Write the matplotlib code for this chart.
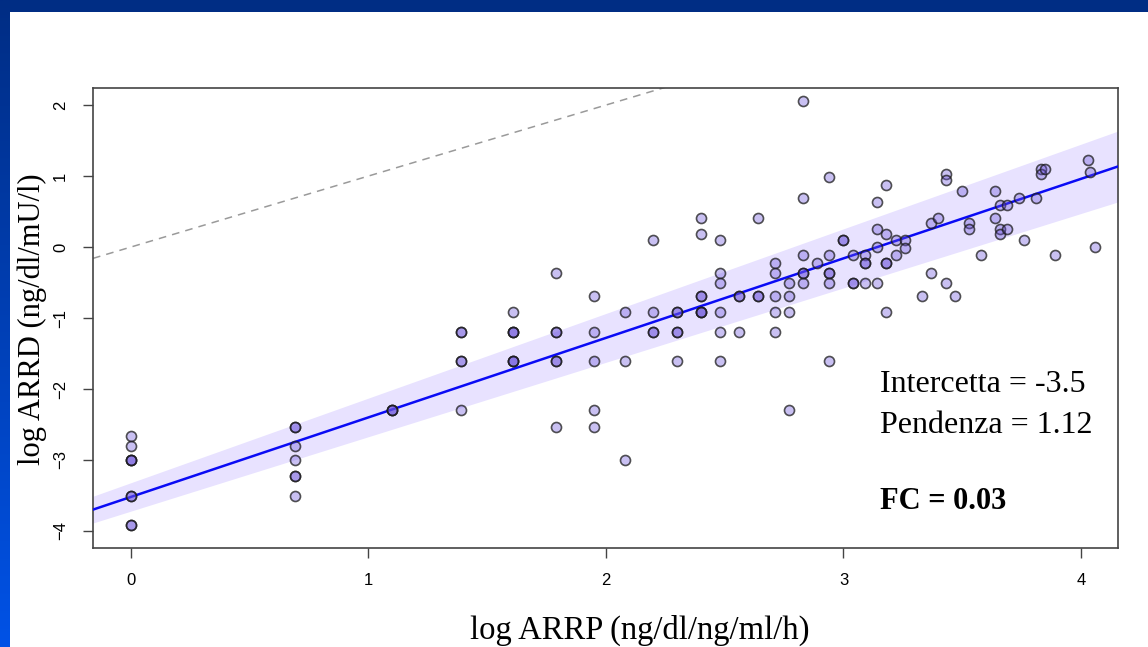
import numpy as np
import matplotlib
matplotlib.use("Agg")
import matplotlib.pyplot as plt

# log ARRP (x) / log ARRD (y) pairs
x_cols = [0.00, 0.69, 1.10, 1.39, 1.61, 1.79, 1.95, 2.08, 2.20, 2.30,
          2.40, 2.48, 2.56, 2.64, 2.71, 2.77, 2.83, 2.89, 2.94, 3.00,
          3.04, 3.09, 3.14, 3.18, 3.22, 3.26, 3.33, 3.37, 3.40, 3.43,
          3.47, 3.50, 3.53, 3.58, 3.64, 3.66, 3.69, 3.74, 3.76, 3.81,
          3.83, 3.85, 3.89, 4.03, 4.04, 4.06]
y_cols = [
    [-2.66, -2.81, -3.00, -3.00, -3.00, -3.51, -3.51, -3.91, -3.91],
    [-2.53, -2.53, -2.81, -3.00, -3.22, -3.22, -3.51],
    [-2.30, -2.30, -2.30],
    [-1.20, -1.20, -1.61, -1.61, -2.30],
    [-0.92, -1.20, -1.20, -1.20, -1.61, -1.61, -1.61],
    [-0.36, -1.20, -1.20, -1.61, -1.61, -2.53],
    [-0.69, -1.20, -1.61, -2.30, -2.53],
    [-0.92, -1.61, -3.00],
    [0.10, -0.92, -1.20, -1.20],
    [-0.92, -0.92, -1.20, -1.20, -1.61],
    [0.41, 0.18, -0.69, -0.69, -0.92, -0.92, -0.92],
    [0.10, -0.36, -0.51, -0.92, -1.20, -1.61],
    [-0.69, -0.69, -1.20],
    [0.41, -0.69, -0.69],
    [-0.22, -0.36, -0.69, -0.92, -1.20],
    [-0.51, -0.69, -0.92, -2.30],
    [2.05, 0.69, -0.11, -0.36, -0.36, -0.51],
    [-0.22],
    [0.99, -0.11, -0.36, -0.36, -0.51, -1.61],
    [0.10, 0.10],
    [-0.11, -0.51, -0.51],
    [-0.11, -0.22, -0.22, -0.51],
    [0.64, 0.26, 0.00, -0.51],
    [0.88, 0.18, -0.22, -0.22, -0.92],
    [0.10, -0.11],
    [0.10, -0.02],
    [-0.69],
    [0.34, -0.36],
    [0.41],
    [1.03, 0.95, -0.51],
    [-0.69],
    [0.79],
    [0.34, 0.26],
    [-0.11],
    [0.79, 0.41],
    [0.59, 0.26, 0.18],
    [0.59, 0.26],
    [0.69],
    [0.10],
    [0.69],
    [1.10, 1.03],
    [1.10],
    [-0.11],
    [1.22],
    [1.06],
    [0.00],
]

intercept = -3.52
slope = 1.12
band_upper = (-3.32, 1.192)
band_lower = (-3.72, 1.048)

x_ticks = [0, 1, 2, 3, 4]
y_ticks = [-4, -3, -2, -1, 0, 1, 2]

xs = []
ys = []
for xv, col in zip(x_cols, y_cols):
    for yv in col:
        xs.append(xv)
        ys.append(yv)

fig = plt.figure(figsize=(11.48, 6.47), dpi=100)
fig.patch.set_facecolor("white")

# slide frame: dark top bar and blue gradient left bar
bar_top = fig.add_axes([0, 1 - 12 / 647, 1, 12 / 647])
bar_top.axis("off")
bar_top.add_patch(plt.Rectangle((0, 0), 1, 1, color="#002d84", transform=bar_top.transAxes))
bar_left = fig.add_axes([0, 0, 10 / 1148, 1])
bar_left.axis("off")
grad = np.linspace(0, 1, 256).reshape(-1, 1)
cmap = matplotlib.colors.LinearSegmentedColormap.from_list("slide", ["#0052e6", "#002d84"])
bar_left.imshow(grad, aspect="auto", cmap=cmap, origin="lower", extent=[0, 1, 0, 1])

ax = fig.add_axes([93 / 1148, 1 - 548 / 647, (1118 - 93) / 1148, (548 - 88) / 647])
xlim = (-0.16, 4.156)
ax.set_xlim(*xlim)
ax.set_ylim(-4.24, 2.24)

xx = np.array(xlim)
ax.fill_between(xx, band_lower[0] + band_lower[1] * xx, band_upper[0] + band_upper[1] * xx,
                color="#e8e2ff", lw=0, zorder=1)
ax.plot(xx, xx, ls=(0, (5, 4)), color="#9a9a9a", lw=1.1, zorder=2)
ax.plot(xx, intercept + slope * xx, color="#0a0af5", lw=1.8, zorder=3)
ax.scatter(xs, ys, s=52, facecolor=(0.42, 0.32, 0.86, 0.36),
           edgecolor=(0.1, 0.1, 0.1, 0.75), linewidth=1.2, zorder=4)

ax.set_xticks(x_ticks)
ax.set_yticks(y_ticks)
ax.tick_params(direction="out", length=7, width=1, color="#444444", labelsize=12, pad=11)
for lab in ax.get_xticklabels() + ax.get_yticklabels():
    lab.set_family("Liberation Sans")
for lab in ax.get_yticklabels():
    lab.set_rotation(90)
    lab.set_va("center")
for sp in ax.spines.values():
    sp.set_color("#444444")
    sp.set_linewidth(1.2)

serif = "Liberation Serif"
ax.text(3.155, -1.94, "Intercetta = -3.5", family=serif, fontsize=23, va="center", ha="left")
ax.text(3.155, -2.51, "Pendenza = 1.12", family=serif, fontsize=23, va="center", ha="left")
ax.text(3.155, -3.59, "FC = 0.03", family=serif, fontsize=22, fontweight="bold",
        va="center", ha="left")

fig.text(640 / 1148, 1 - 630 / 647, "log ARRP (ng/dl/ng/ml/h)", family=serif, fontsize=23.5,
         ha="center", va="center")
fig.text(32 / 1148, 1 - 319 / 647, "log ARRD (ng/dl/mU/l)", family=serif, fontsize=22,
         ha="center", va="center", rotation=90)

fig.savefig("out.png", dpi=100)
